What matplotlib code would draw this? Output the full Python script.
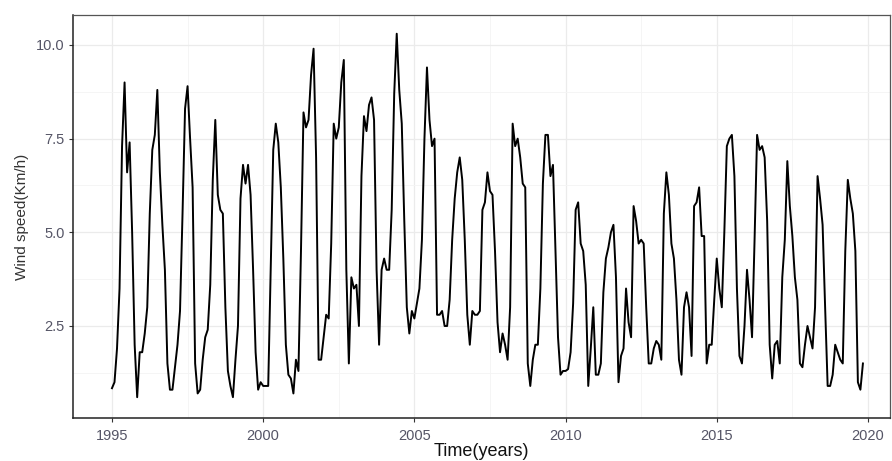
import numpy as np
import matplotlib
matplotlib.use("Agg")
import matplotlib.pyplot as plt
from matplotlib.ticker import MultipleLocator

# Monthly mean wind speed (Km/h), Jan 1995 - Nov 2019
start_year = 1995
w1995 = [0.84, 1.0, 1.9, 3.5, 7.3, 9.0, 6.6, 7.4, 5.0, 2.0, 0.6, 1.8]
w1996 = [1.8, 2.3, 3.0, 5.5, 7.2, 7.6, 8.8, 6.6, 5.2, 4.0, 1.5, 0.8]
w1997 = [0.8, 1.4, 2.0, 2.9, 5.5, 8.3, 8.9, 7.5, 6.2, 1.5, 0.7, 0.8]
w1998 = [1.6, 2.2, 2.4, 3.6, 6.4, 8.0, 6.0, 5.6, 5.5, 3.0, 1.3, 0.9]
w1999 = [0.6, 1.6, 2.5, 5.9, 6.8, 6.3, 6.8, 6.0, 4.0, 1.8, 0.8, 1.0]
w2000 = [0.9, 0.9, 0.9, 4.1, 7.2, 7.9, 7.4, 6.2, 4.3, 2.0, 1.2, 1.1]
w2001 = [0.7, 1.6, 1.3, 4.5, 8.2, 7.8, 8.0, 9.2, 9.9, 7.0, 1.6, 1.6]
w2002 = [2.2, 2.8, 2.7, 4.7, 7.9, 7.5, 7.8, 9.0, 9.6, 4.0, 1.5, 3.8]
w2003 = [3.5, 3.6, 2.5, 6.5, 8.1, 7.7, 8.4, 8.6, 8.0, 4.0, 2.0, 4.0]
w2004 = [4.3, 4.0, 4.0, 5.6, 8.7, 10.3, 8.8, 7.9, 5.3, 3.0, 2.3, 2.9]
w2005 = [2.7, 3.1, 3.5, 4.8, 7.5, 9.4, 8.0, 7.3, 7.5, 2.8, 2.8, 2.9]
w2006 = [2.5, 2.5, 3.2, 4.8, 5.9, 6.6, 7.0, 6.4, 4.8, 2.8, 2.0, 2.9]
w2007 = [2.8, 2.8, 2.9, 5.6, 5.8, 6.6, 6.1, 6.0, 4.5, 2.6, 1.8, 2.3]
w2008 = [2.0, 1.6, 3.0, 7.9, 7.3, 7.5, 7.0, 6.3, 6.2, 1.5, 0.9, 1.6]
w2009 = [2.0, 2.0, 3.5, 6.3, 7.6, 7.6, 6.5, 6.8, 4.5, 2.2, 1.2, 1.3]
w2010 = [1.3, 1.35, 1.8, 3.1, 5.6, 5.8, 4.7, 4.5, 3.6, 0.9, 1.9, 3.0]
w2011 = [1.2, 1.2, 1.5, 3.4, 4.3, 4.6, 5.0, 5.2, 3.8, 1.0, 1.7, 1.9]
w2012 = [3.5, 2.6, 2.2, 5.7, 5.3, 4.7, 4.8, 4.7, 3.0, 1.5, 1.5, 1.9]
w2013 = [2.1, 2.0, 1.6, 5.5, 6.6, 6.0, 4.7, 4.3, 3.2, 1.6, 1.2, 3.0]
w2014 = [3.4, 3.0, 1.7, 5.7, 5.8, 6.2, 4.9, 4.9, 1.5, 2.0, 2.0, 3.2]
w2015 = [4.3, 3.5, 3.0, 5.0, 7.3, 7.5, 7.6, 6.5, 3.5, 1.7, 1.5, 2.5]
w2016 = [4.0, 3.2, 2.2, 4.8, 7.6, 7.2, 7.3, 7.0, 5.3, 2.0, 1.1, 2.0]
w2017 = [2.1, 1.5, 3.8, 4.8, 6.9, 5.7, 4.9, 3.8, 3.2, 1.5, 1.4, 2.0]
w2018 = [2.5, 2.2, 1.9, 3.0, 6.5, 5.9, 5.2, 3.0, 0.9, 0.9, 1.2, 2.0]
w2019 = [1.8, 1.6, 1.5, 4.5, 6.4, 5.9, 5.5, 4.5, 1.0, 0.8, 1.5]

years = [w1995, w1996, w1997, w1998, w1999, w2000, w2001, w2002, w2003,
         w2004, w2005, w2006, w2007, w2008, w2009, w2010, w2011, w2012,
         w2013, w2014, w2015, w2016, w2017, w2018, w2019]
speed = np.concatenate([np.array(y, dtype=float) for y in years])
time = start_year + np.arange(len(speed)) / 12.0

x_ticks = [1995, 2000, 2005, 2010, 2015, 2020]
y_ticks = [2.5, 5.0, 7.5, 10.0]

plt.rcParams['font.family'] = ['Liberation Sans', 'DejaVu Sans']

fig = plt.figure(figsize=(8.92, 4.61), dpi=100)
ax = fig.add_axes([0.0818, 0.0933, 0.9160, 0.8742])

ax.plot(time, speed, color='black', linewidth=1.4)

ax.set_xlim(1993.71, 2020.73)
ax.set_ylim(0.045, 10.80)
ax.set_xticks(x_ticks)
ax.set_xticklabels([str(t) for t in x_ticks])
ax.set_yticks(y_ticks)
ax.set_yticklabels([f"{t:.1f}" for t in y_ticks])
ax.xaxis.set_minor_locator(MultipleLocator(2.5))
ax.yaxis.set_minor_locator(MultipleLocator(1.25))

ax.grid(which='major', color='#EBEBEB', linewidth=0.9)
ax.grid(which='minor', color='#F4F4F4', linewidth=0.6)
ax.set_axisbelow(True)

for side in ['top', 'right']:
    ax.spines[side].set_color('#555555')
    ax.spines[side].set_linewidth(0.9)
for side in ['left', 'bottom']:
    ax.spines[side].set_color('#222222')
    ax.spines[side].set_linewidth(1.1)

ax.tick_params(which='major', length=3.0, width=0.8, color='#333333',
               labelsize=10.5, labelcolor='#555566')
ax.tick_params(axis='x', which='major', pad=5.0)
ax.tick_params(axis='y', which='major', pad=3)
ax.tick_params(which='minor', length=0)

ax.set_xlabel('Time(years)', fontsize=13, color='#111111', labelpad=0)
ax.set_ylabel('Wind speed(Km/h)', fontsize=11, color='#333333', labelpad=5)

fig.savefig('out.png', dpi=100)
